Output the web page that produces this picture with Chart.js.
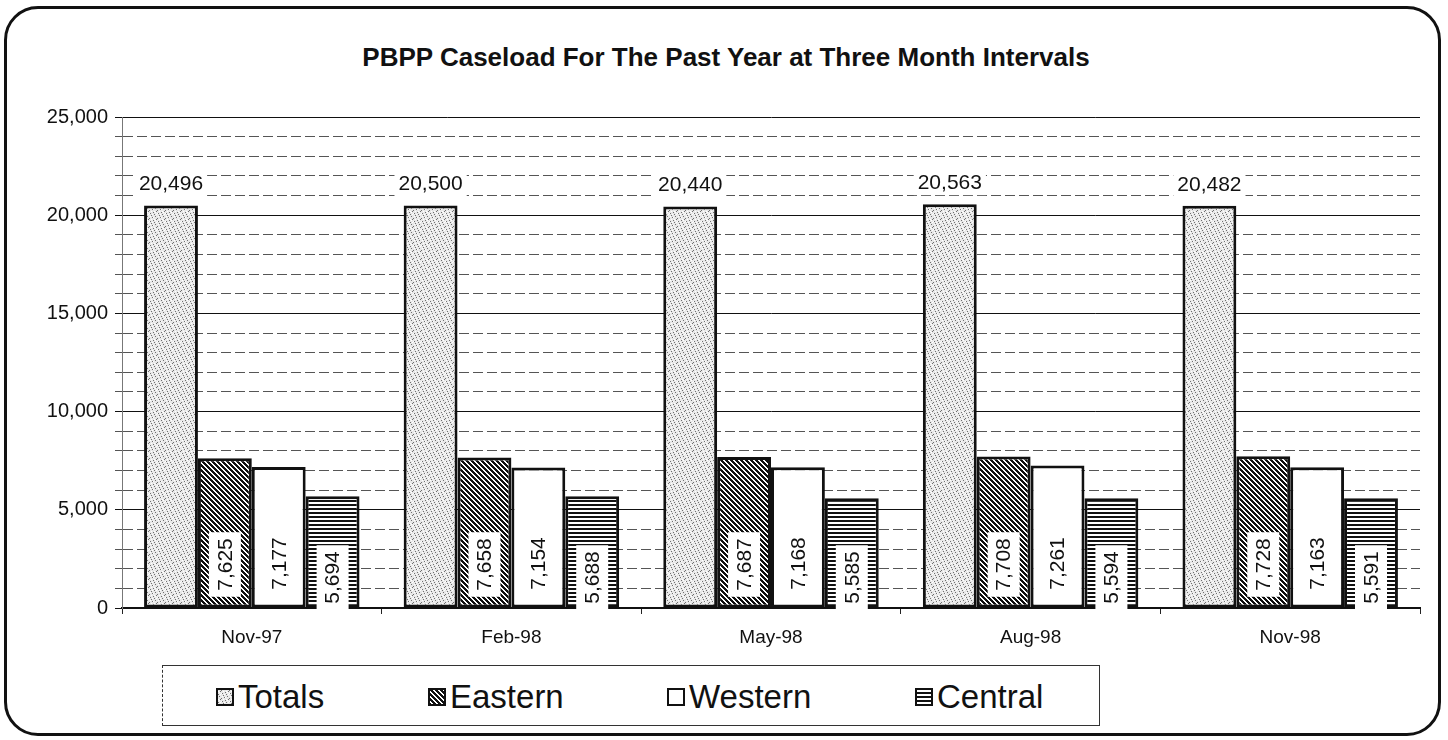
<!DOCTYPE html>
<html>
<head>
<meta charset="utf-8">
<title>PBPP Caseload</title>
<script src="https://cdn.jsdelivr.net/npm/chart.js@4.4.1/dist/chart.umd.min.js"></script>
<style>
  html, body { margin: 0; padding: 0; background: #fff; }
  body { width: 1448px; height: 740px; position: relative; overflow: hidden; font-family: 'Liberation Sans', Arial, sans-serif; color: #111; }
  .frame { position: absolute; left: 4px; top: 6px; width: 1437px; height: 730px; box-sizing: border-box; border: 3px solid #111; border-radius: 34px; }
  #chart { position: absolute; left: 0; top: 0; }
  .title { position: absolute; top: 44px; left: 726px; transform: translateX(-50%); font-weight: bold; font-size: 26px; line-height: 26px; white-space: nowrap; }
  .legend { position: absolute; left: 162px; top: 665px; width: 938px; height: 61px; box-sizing: border-box; border: 1.5px solid #333; border-left-style: dashed; background: #fff; }
  .item { position: absolute; top: 680px; height: 34px; display: flex; align-items: center; gap: 4px; font-size: 33px; line-height: 34px; }
  .item canvas { display: block; }
</style>
</head>
<body>
<div class="frame"></div>
<div class="title">PBPP Caseload For The Past Year at Three Month Intervals</div>
<canvas id="chart" width="1448" height="740"></canvas>
<div class="legend"></div>
<div class="item" style="left:216px"><canvas id="sw0" width="18" height="18"></canvas><span>Totals</span></div>
<div class="item" style="left:428px"><canvas id="sw1" width="18" height="18"></canvas><span>Eastern</span></div>
<div class="item" style="left:667px"><canvas id="sw2" width="18" height="18"></canvas><span>Western</span></div>
<div class="item" style="left:915px"><canvas id="sw3" width="18" height="18"></canvas><span>Central</span></div>
<script>
const months = ['Nov-97', 'Feb-98', 'May-98', 'Aug-98', 'Nov-98'];
const totals = [20496, 20500, 20440, 20563, 20482];
const eastern = [7625, 7658, 7687, 7708, 7728];
const western = [7177, 7154, 7168, 7261, 7163];
const central = [5694, 5688, 5585, 5594, 5591];
const seriesNames = ['Totals', 'Eastern', 'Western', 'Central'];

Chart.defaults.font.family = "'Liberation Sans', Arial, sans-serif";
Chart.defaults.color = '#111';

// little bitmap tiles to imitate the old printer fills
function makePattern(size, paint) {
  const c = document.createElement('canvas');
  c.width = size;
  c.height = size;
  const g = c.getContext('2d');
  paint(g, size);
  return g.createPattern(c, 'repeat');
}

const stipple = makePattern(8, (g, n) => {
  g.fillStyle = '#e8e8e8';
  g.fillRect(0, 0, n, n);
  g.fillStyle = '#707070';
  [[0, 1], [3, 0], [5, 2], [1, 4], [6, 5], [2, 6], [4, 3], [7, 7]].forEach(([x, y]) => g.fillRect(x, y, 1, 1));
  g.fillStyle = '#fff';
  [[1, 1], [4, 6], [6, 0], [3, 4], [7, 3], [0, 6], [2, 3], [5, 5]].forEach(([x, y]) => g.fillRect(x, y, 1, 1));
});

const hatch = makePattern(5, (g, n) => {
  g.fillStyle = '#fff';
  g.fillRect(0, 0, n, n);
  g.fillStyle = '#111';
  for (let y = 0; y < n; y++) {
    for (let x = 0; x < n; x++) {
      if ((x - y + n) % n < 3) g.fillRect(x, y, 1, 1);
    }
  }
});

const stripes = makePattern(4, (g, n) => {
  g.fillStyle = '#fff';
  g.fillRect(0, 0, n, n);
  g.fillStyle = '#111';
  g.fillRect(0, 0, n, 2);
});

const fills = [stipple, hatch, '#fff', stripes];

fills.forEach((f, i) => {
  const g = document.getElementById('sw' + i).getContext('2d');
  g.fillStyle = f;
  g.fillRect(1, 1, 16, 16);
  g.strokeStyle = '#111';
  g.lineWidth = 2;
  g.strokeRect(1, 1, 16, 16);
});

const barLabels = {
  id: 'barLabels',
  afterDatasetsDraw(chart) {
    const lift = [0, 43, 44, 30];
    const ctx = chart.ctx;
    ctx.save();
    ctx.font = "21px 'Liberation Sans', Arial, sans-serif";
    ctx.textAlign = 'center';
    ctx.textBaseline = 'middle';
    chart.data.datasets.forEach((ds, di) => {
      chart.getDatasetMeta(di).data.forEach((bar, i) => {
        const txt = ds.data[i].toLocaleString('en-US');
        const w = ctx.measureText(txt).width;
        if (di === 0) {
          const cy = bar.y - 21;
          ctx.fillStyle = '#fff';
          ctx.fillRect(bar.x - w / 2 - 4, cy - 12, w + 8, 24);
          ctx.fillStyle = '#111';
          ctx.fillText(txt, bar.x, cy);
        } else {
          ctx.save();
          ctx.translate(bar.x, bar.base - lift[di]);
          ctx.rotate(-Math.PI / 2);
          ctx.fillStyle = '#fff';
          ctx.fillRect(-w / 2 - 6, -16, w + 12, 32);
          ctx.fillStyle = '#111';
          ctx.fillText(txt, 0, 1);
          ctx.restore();
        }
      });
    });
    ctx.restore();
  },
};

const isMajor = (c) => c.tick && c.tick.value % 5000 === 0;

new Chart(document.getElementById('chart'), {
  type: 'bar',
  data: {
    labels: months,
    datasets: [totals, eastern, western, central].map((data, i) => ({
      label: seriesNames[i],
      data,
      backgroundColor: fills[i],
      borderColor: '#111',
      borderWidth: 3,
      borderSkipped: false,
      barPercentage: 1,
      categoryPercentage: 0.83,
    })),
  },
  options: {
    responsive: false,
    animation: false,
    events: [],
    layout: { padding: { left: 0, right: 28, top: 117, bottom: 92 } },
    plugins: {
      legend: { display: false },
      title: { display: false },
      tooltip: { enabled: false },
    },
    scales: {
      x: {
        grid: { drawOnChartArea: false, tickLength: 6, color: '#222' },
        border: { color: '#111', width: 2 },
        ticks: { font: { size: 19 }, padding: 12 },
        afterFit: (s) => { s.height = 40; },
      },
      y: {
        min: 0,
        max: 25000,
        ticks: {
          stepSize: 1000,
          autoSkip: false,
          padding: 7,
          font: { size: 20 },
          callback: (v) => (v % 5000 === 0 ? v.toLocaleString('en-US') : ''),
        },
        grid: {
          color: (c) => (isMajor(c) ? '#111' : '#555'),
          lineWidth: 1,
          tickLength: 7,
        },
        border: {
          display: true,
          color: '#777',
          width: 1,
          dash: (c) => (c.tick && !isMajor(c) ? [10, 4] : []),
        },
        afterFit: (s) => { s.width = 122; },
      },
    },
  },
  plugins: [barLabels],
});
</script>
</body>
</html>
